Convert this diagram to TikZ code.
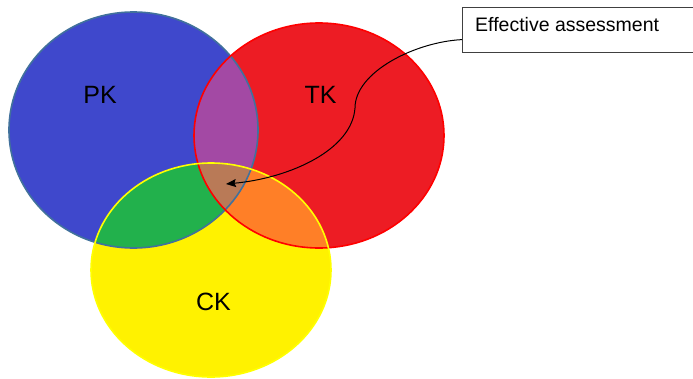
\documentclass[tikz,border=0pt]{standalone}
\usepackage{fontspec}
\setmainfont{Liberation Sans}
\usetikzlibrary{arrows.meta}

\definecolor{pkfill}{HTML}{3F48CC}
\definecolor{tkfill}{HTML}{ED1C24}
\definecolor{ckfill}{HTML}{FFF200}
\definecolor{pktk}{HTML}{A349A4}
\definecolor{pkck}{HTML}{22B14C}
\definecolor{tkck}{HTML}{FF7F27}
\definecolor{allthree}{HTML}{B97A57}
\definecolor{pkedge}{HTML}{41719C}
\definecolor{tkedge}{HTML}{FF0000}
\definecolor{ckedge}{HTML}{FFFF00}
\definecolor{boxedge}{HTML}{404040}

\tikzset{
  setlabel/.style={font=\fontsize{25}{28}\selectfont, anchor=base, inner sep=0pt},
  calloutbox/.style={draw=boxedge, fill=white, line width=1.2pt, anchor=north west,
    minimum width=240pt, minimum height=45pt, inner sep=0pt},
  callouttext/.style={font=\fontsize{19.5}{22}\selectfont, anchor=base west, inner sep=0pt},
  conn/.style={draw=black, line width=1pt, -{Stealth[length=10pt,width=8pt,inset=1.5pt]}},
  rim/.style={line width=1.6pt}
}

\begin{document}
\begin{tikzpicture}[x=1pt, y=-1pt]
  \useasboundingbox (0,0) rectangle (693,378);

  % the three knowledge sets
  \def\pkset{(133.5,130) ellipse [x radius=124.5pt, y radius=118pt]}
  \def\tkset{(319,135.5) ellipse [x radius=125pt, y radius=112.5pt]}
  \def\ckset{(211,270) ellipse [x radius=120pt, y radius=107pt]}

  \fill[pkfill] \pkset;
  \fill[tkfill] \tkset;
  \fill[ckfill] \ckset;

  % pairwise overlaps
  \begin{scope}
    \clip \pkset;
    \fill[pktk] \tkset;
    \fill[pkck] \ckset;
  \end{scope}
  \begin{scope}
    \clip \tkset;
    \fill[tkck] \ckset;
  \end{scope}
  % common core
  \begin{scope}
    \clip \pkset;
    \clip \tkset;
    \fill[allthree] \ckset;
  \end{scope}

  % outlines
  \draw[rim, pkedge] \pkset;
  \draw[rim, tkedge] \tkset;
  \draw[rim, ckedge] \ckset;

  % set names
  \node[setlabel] (pk) at (100,103) {PK};
  \node[setlabel] (tk) at (320.5,103) {TK};
  \node[setlabel] (ck) at (213.5,310) {CK};

  % callout
  \node[calloutbox] (box) at (462,7) {};
  \node[callouttext] (boxtext) at (475,31) {Effective assessment};
  \coordinate (core) at (226,184);
  \draw[conn] ([yshift=-9.5pt]box.west) .. controls (415,42) and (355,72) .. (355,108)
              .. controls (352,150) and (290,178) .. (core);
\end{tikzpicture}
\end{document}
